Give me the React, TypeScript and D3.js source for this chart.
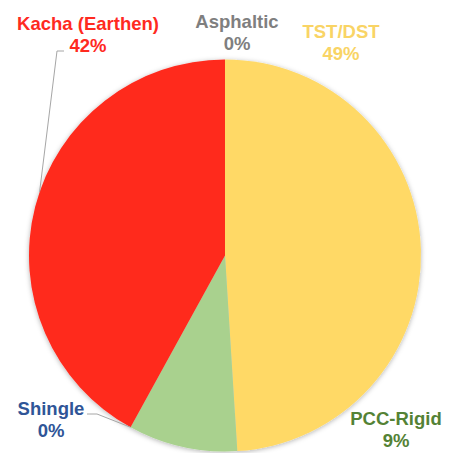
import React from "react";
import * as d3 from "d3";

// Road surface share (%)
const categories = ["TST/DST", "PCC-Rigid", "Shingle", "Kacha (Earthen)", "Asphaltic"];
const shares = [49, 9, 0, 42, 0];
const sliceColors = ["#FFD966", "#A9D18E", "#4472C4", "#FF2A1F", "#A5A5A5"];
const labelColors = ["#F9D465", "#548235", "#2F5597", "#FF2A1F", "#7F7F7F"];

const W = 454;
const H = 453;
const cx = 225;
const cy = 255.5;
const R = 196;

// label anchor (centre of the two text lines, baseline of the first line)
const labelPos: [number, number][] = [
  [341, 38],
  [396, 425],
  [51, 415],
  [88, 30],
  [237, 28],
];

const FONT = "'Liberation Sans', Arial, sans-serif";

export default function App() {
  const pie = d3
    .pie<number>()
    .sort(null)
    .value((d) => d)
    .startAngle(0)
    .endAngle(2 * Math.PI);
  const arcs = pie(shares);
  const arc = d3.arc<d3.PieArcDatum<number>>().innerRadius(0).outerRadius(R);

  const onEdge = (a: number): [number, number] => [cx + R * Math.sin(a), cy - R * Math.cos(a)];

  // leader for Kacha: from label elbow down to the outer edge of its slice
  const kacha = arcs[3];
  const kachaEnd = onEdge(kacha.startAngle + (kacha.endAngle - kacha.startAngle) * 0.53);
  const kachaLine = d3.line()([[64, 51], [57, 51], kachaEnd]);

  // leader for Shingle: to the zero-width slice on the rim
  const shingleEnd = onEdge(arcs[2].startAngle);
  const shingleLine = d3.line()([[87, 414], [97, 414], shingleEnd]);

  return (
    <svg width={W} height={H} style={{ position: "absolute", left: 0, top: 0 }}>
      <defs>
        <filter id="pieShadow" x="-10%" y="-10%" width="120%" height="120%">
          <feDropShadow dx="0" dy="1" stdDeviation="2.5" floodColor="#000" floodOpacity="0.3" />
        </filter>
      </defs>
      <rect width={W} height={H} fill="#fff" />
      <g transform={`translate(${cx},${cy})`} filter="url(#pieShadow)">
        {arcs.map((a, i) =>
          a.value > 0 ? <path key={i} d={arc(a) || ""} fill={sliceColors[i]} /> : null
        )}
      </g>
      <path d={kachaLine || ""} fill="none" stroke="#A6A6A6" strokeWidth={1} />
      <path d={shingleLine || ""} fill="none" stroke="#A6A6A6" strokeWidth={1} />
      {categories.map((c, i) => (
        <text
          key={c}
          x={labelPos[i][0]}
          y={labelPos[i][1]}
          textAnchor="middle"
          fontFamily={FONT}
          fontWeight="bold"
          fontSize={18.5}
          fill={labelColors[i]}
        >
          <tspan x={labelPos[i][0]}>{c}</tspan>
          <tspan x={labelPos[i][0]} dy={22}>{`${shares[i]}%`}</tspan>
        </text>
      ))}
    </svg>
  );
}
